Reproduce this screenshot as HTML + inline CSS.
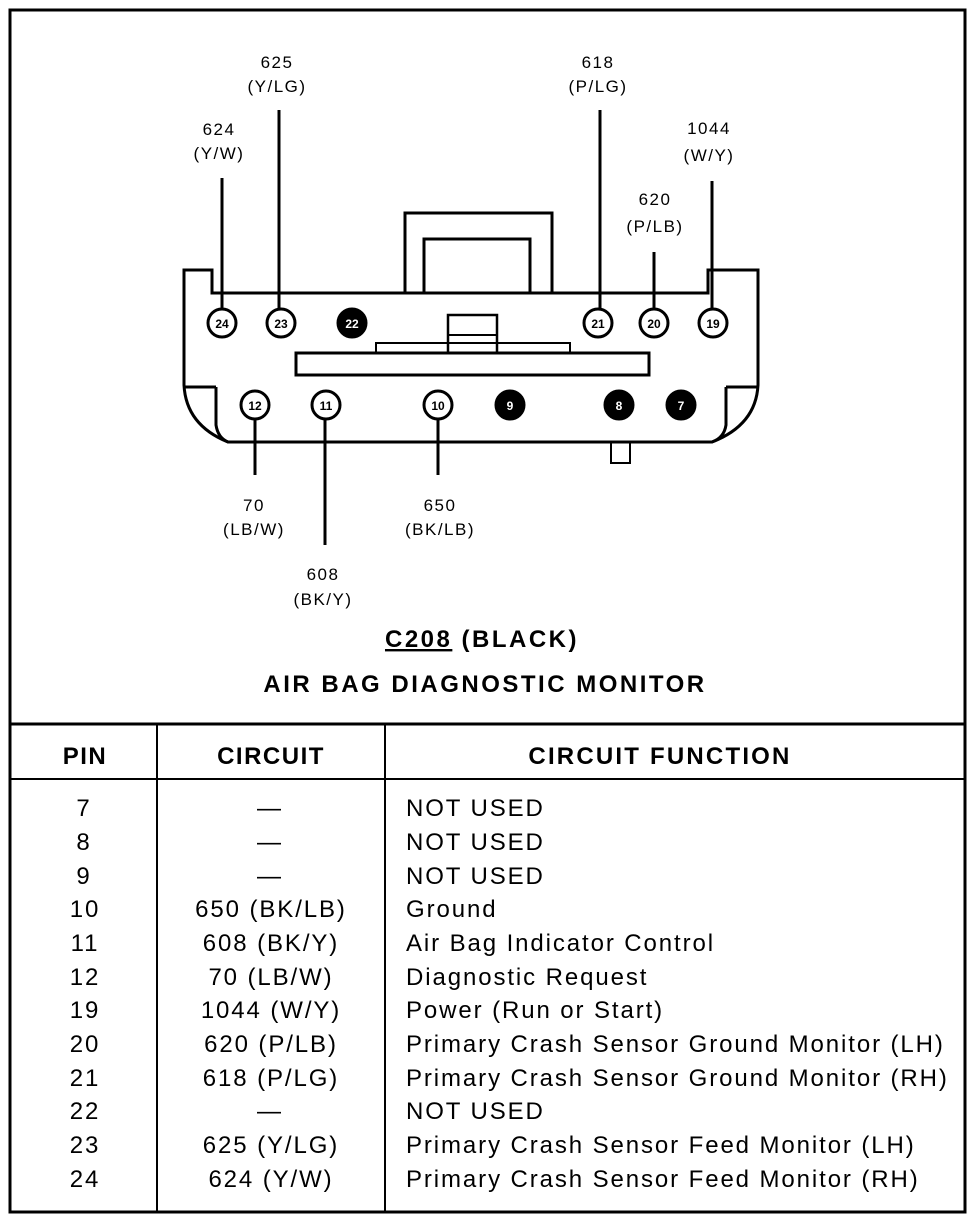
<!DOCTYPE html>
<html><head><style>
body{margin:0;background:#fff;}
svg{display:block}
text{font-family:"Liberation Sans",sans-serif;fill:#000}
</style></head><body>
<svg width="976" height="1220" viewBox="0 0 976 1220" xmlns="http://www.w3.org/2000/svg">
<rect x="10" y="10" width="955" height="1202" fill="none" stroke="#000" stroke-width="3"/>
<line x1="10" y1="724" x2="965" y2="724" stroke="#000" stroke-width="3"/>
<line x1="10" y1="779" x2="965" y2="779" stroke="#000" stroke-width="2"/>
<line x1="157" y1="724" x2="157" y2="1212" stroke="#000" stroke-width="2"/>
<line x1="385" y1="724" x2="385" y2="1212" stroke="#000" stroke-width="2"/>

<g fill="none" stroke="#000" stroke-width="3">
<path d="M212,293 L212,270 L184,270 L184,385 Q186,425 228,442 L712,442 Q756,425 758,385 L758,270 L708,270 L708,293 Z"/>
<path d="M216,387 L184,387"/>
<path d="M216,387 L216,425 Q218,438 228,442"/>
<path d="M726,387 L758,387"/>
<path d="M726,387 L726,425 Q724,438 712,442"/>
<path d="M405,293 L405,213 L552,213 L552,293"/>
<path d="M424,293 L424,239 L530,239 L530,293"/>
<rect x="296" y="353" width="353" height="22"/>
<rect x="376" y="343" width="194" height="10" stroke-width="2"/>
<rect x="448" y="315" width="49" height="38" stroke-width="2.5"/>
<line x1="448" y1="335" x2="497" y2="335" stroke-width="2"/>
<rect x="611" y="442" width="19" height="21" stroke-width="2"/>
<line x1="222" y1="178" x2="222" y2="310"/>
<line x1="279" y1="110" x2="279" y2="310"/>
<line x1="600" y1="110" x2="600" y2="310"/>
<line x1="654" y1="252" x2="654" y2="310"/>
<line x1="712" y1="181" x2="712" y2="310"/>
<line x1="255" y1="418" x2="255" y2="475"/>
<line x1="325" y1="418" x2="325" y2="545"/>
<line x1="438" y1="418" x2="438" y2="475"/>
</g>
<g stroke="#000" stroke-width="3">
<circle cx="222" cy="323" r="14" fill="#fff"/>
<circle cx="281" cy="323" r="14" fill="#fff"/>
<circle cx="352" cy="323" r="14" fill="#000"/>
<circle cx="598" cy="323" r="14" fill="#fff"/>
<circle cx="654" cy="323" r="14" fill="#fff"/>
<circle cx="713" cy="323" r="14" fill="#fff"/>
<circle cx="255" cy="405" r="14" fill="#fff"/>
<circle cx="326" cy="405" r="14" fill="#fff"/>
<circle cx="438" cy="405" r="14" fill="#fff"/>
<circle cx="510" cy="405" r="14" fill="#000"/>
<circle cx="619" cy="405" r="14" fill="#000"/>
<circle cx="681" cy="405" r="14" fill="#000"/>
</g>
<g font-size="12" font-weight="bold" text-anchor="middle">
<text x="222" y="328">24</text><text x="281" y="328">23</text><text x="352" y="328" style="fill:#fff">22</text>
<text x="598" y="328">21</text><text x="654" y="328">20</text><text x="713" y="328">19</text>
<text x="255" y="410">12</text><text x="326" y="410">11</text><text x="438" y="410">10</text>
<text x="510" y="410" style="fill:#fff">9</text><text x="619" y="410" style="fill:#fff">8</text><text x="681" y="410" style="fill:#fff">7</text>
</g>
<g font-size="17" text-anchor="middle" letter-spacing="1.5">
<text x="277" y="68">625</text><text x="277" y="92">(Y/LG)</text>
<text x="219" y="135">624</text><text x="219" y="159">(Y/W)</text>
<text x="598" y="68">618</text><text x="598" y="92">(P/LG)</text>
<text x="709" y="134">1044</text><text x="709" y="161">(W/Y)</text>
<text x="655" y="205">620</text><text x="655" y="232">(P/LB)</text>
<text x="254" y="511">70</text><text x="254" y="535">(LB/W)</text>
<text x="440" y="511">650</text><text x="440" y="535">(BK/LB)</text>
<text x="323" y="580">608</text><text x="323" y="605">(BK/Y)</text>
</g>
<g font-size="24" font-weight="bold" text-anchor="middle" letter-spacing="2.5">
<text x="482" y="647"><tspan text-decoration="underline">C208</tspan> (BLACK)</text>
<text x="485" y="692">AIR BAG DIAGNOSTIC MONITOR</text>
<text x="85" y="764" letter-spacing="1.5">PIN</text>
<text x="271" y="764" letter-spacing="1.5">CIRCUIT</text>
<text x="660" y="764" letter-spacing="2.2">CIRCUIT FUNCTION</text>
</g>
<g font-size="24" letter-spacing="1.9">
<g text-anchor="middle">
<text x="84" y="816">7</text><text x="84" y="850">8</text><text x="84" y="884">9</text><text x="85" y="917">10</text>
<text x="85" y="951">11</text><text x="85" y="985">12</text><text x="85" y="1018">19</text><text x="85" y="1052">20</text>
<text x="85" y="1086">21</text><text x="85" y="1119">22</text><text x="85" y="1153">23</text><text x="85" y="1187">24</text>
<text x="270" y="816">—</text><text x="270" y="850">—</text><text x="270" y="884">—</text>
<text x="271" y="917">650 (BK/LB)</text><text x="271" y="951">608 (BK/Y)</text><text x="271" y="985">70 (LB/W)</text>
<text x="271" y="1018">1044 (W/Y)</text><text x="271" y="1052">620 (P/LB)</text><text x="271" y="1086">618 (P/LG)</text>
<text x="270" y="1119">—</text><text x="271" y="1153">625 (Y/LG)</text><text x="271" y="1187">624 (Y/W)</text>
</g>
<text x="406" y="816">NOT USED</text><text x="406" y="850">NOT USED</text><text x="406" y="884">NOT USED</text>
<text x="406" y="917">Ground</text><text x="406" y="951">Air Bag Indicator Control</text>
<text x="406" y="985">Diagnostic Request</text><text x="406" y="1018">Power (Run or Start)</text>
<text x="406" y="1052">Primary Crash Sensor Ground Monitor (LH)</text>
<text x="406" y="1086">Primary Crash Sensor Ground Monitor (RH)</text>
<text x="406" y="1119">NOT USED</text>
<text x="406" y="1153">Primary Crash Sensor Feed Monitor (LH)</text>
<text x="406" y="1187">Primary Crash Sensor Feed Monitor (RH)</text>
</g>
</svg>
</body></html>
